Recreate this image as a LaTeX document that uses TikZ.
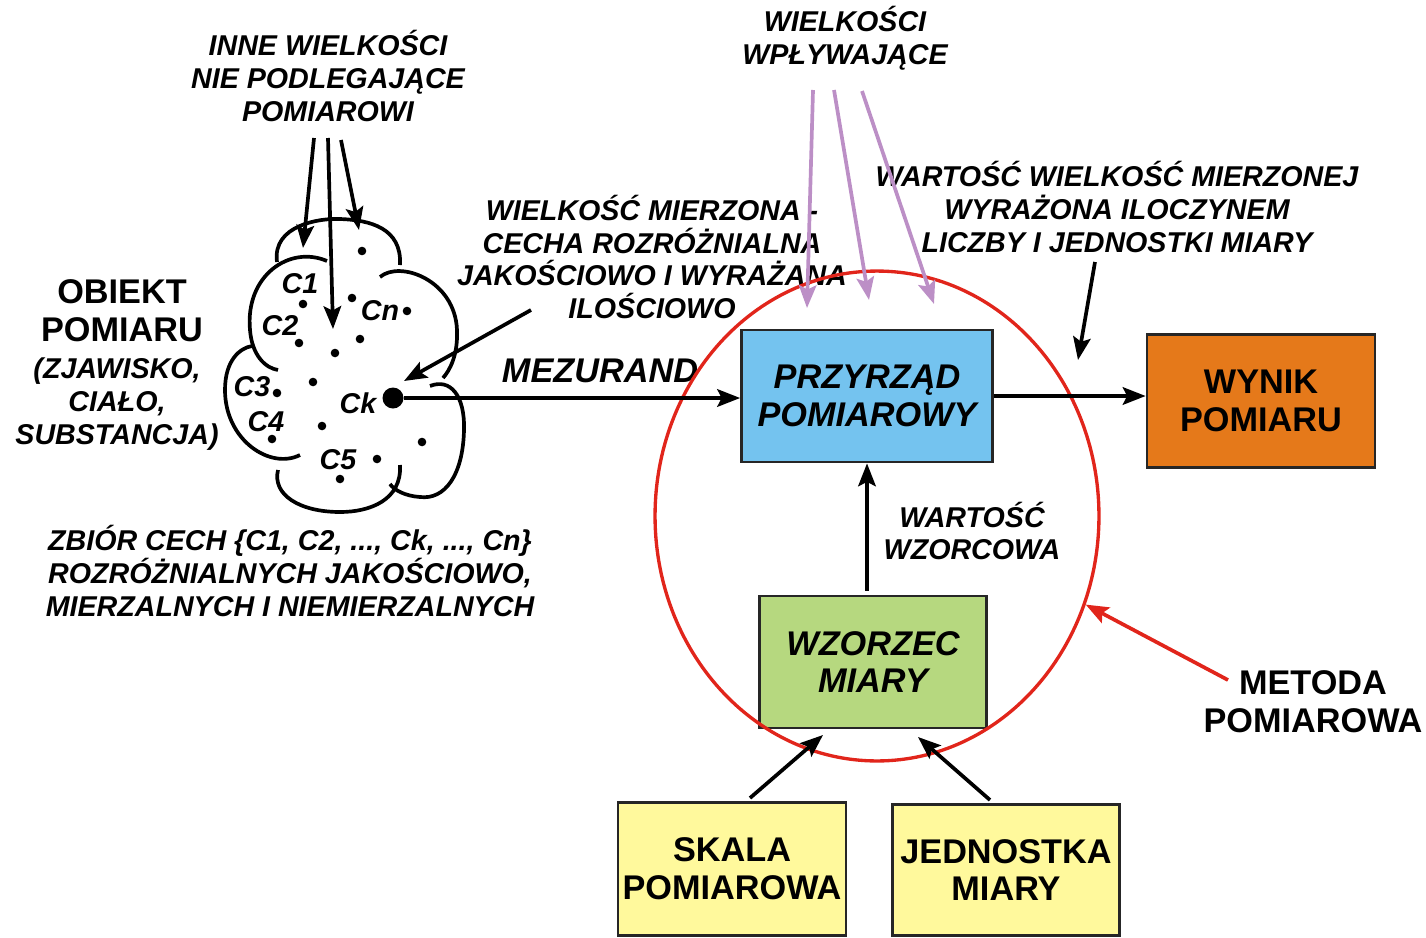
\documentclass[tikz,border=0pt]{standalone}
\usepackage{fontspec}
\setmainfont{Liberation Sans}
\usetikzlibrary{arrows.meta,shapes.geometric}
\definecolor{przyrzadblue}{HTML}{74C3EF}
\definecolor{wynikorange}{HTML}{E5791A}
\definecolor{wzorzecgreen}{HTML}{B6D87F}
\definecolor{skalayellow}{HTML}{FFF99C}
\definecolor{metodared}{HTML}{E1251B}
\definecolor{wplywviolet}{HTML}{BC8FC6}
\tikzset{
	bigtext/.style={font=\fontsize{19.5}{21.6}\selectfont\bfseries,align=center,inner sep=0pt},
	bigitext/.style={font=\fontsize{19.5}{21.6}\selectfont\bfseries\itshape,align=center,inner sep=0pt},
	smalltext/.style={font=\fontsize{16.3}{18.7}\selectfont\bfseries\itshape,align=center,inner sep=0pt},
	mbox/.style={draw=black!85,line width=1.6pt,inner sep=0pt},
	cloudline/.style={line width=2.1pt},
	arr/.style={line width=2.1pt,-{Stealth[length=13pt,width=10pt,inset=2.5pt]}},
}
\begin{document}
\begin{tikzpicture}[x=0.02cm,y=-0.02cm]
	\useasboundingbox (0,0) rectangle (1426,937);
	\node[smalltext] (inne) at (328,76) {INNE WIELKOŚCI\\NIE PODLEGAJĄCE\\POMIAROWI};
	\node[smalltext] (wplyw) at (845,38) {WIELKOŚCI\\WPŁYWAJĄCE};
	\node[bigtext] (obiekt) at (122,311) {OBIEKT\\POMIARU};
	\node[smalltext] (zjawisko) at (117,404) {(ZJAWISKO,\\CIAŁO,\\SUBSTANCJA)};
	\node[smalltext] (zbior) at (290,571) {ZBIÓR CECH \{C1, C2, ..., Ck, ..., Cn\}\\ROZRÓŻNIALNYCH JAKOŚCIOWO,\\MIERZALNYCH I NIEMIERZALNYCH};
	\node[smalltext] (mierzona) at (652,257) {WIELKOŚĆ MIERZONA -\\CECHA ROZRÓŻNIALNA\\JAKOŚCIOWO I WYRAŻANA\\ILOŚCIOWO};
	\node[bigitext] (mezurand) at (600,371) {MEZURAND};
	\node[smalltext] (wartosc) at (1117,207) {WARTOŚĆ WIELKOŚĆ MIERZONEJ\\WYRAŻONA ILOCZYNEM\\LICZBY I JEDNOSTKI MIARY};
	\node[smalltext] (wzorcowa) at (972,531) {WARTOŚĆ\\WZORCOWA};
	\node[bigtext] (metoda) at (1313,702) {METODA\\POMIAROWA};

	\draw[cloudline] (277,262) .. controls (272,225) and (320,218) .. (340,219) .. controls (370,220) and (402,228) .. (400,265);
	\draw[cloudline] (327,261) .. controls (290,245) and (245,275) .. (250,330) .. controls (252,355) and (265,368) .. (278,370);
	\draw[cloudline] (380,277) .. controls (400,260) and (455,280) .. (457,330) .. controls (458,355) and (450,370) .. (443,378);
	\draw[cloudline] (430,386) .. controls (450,378) and (465,395) .. (464,430) .. controls (463,475) and (445,500) .. (420,497) .. controls (405,496) and (394,490) .. (390,484);
	\draw[cloudline] (400,465) .. controls (402,500) and (370,512) .. (340,512) .. controls (300,512) and (272,495) .. (278,470);
	\draw[cloudline] (300,455) .. controls (270,470) and (225,440) .. (225,390) .. controls (225,360) and (240,348) .. (252,346);
	\foreach \px/\py in {362/251,303/304,352/298,407/311,299/343,335/353,360/339,313/382,277/393,322/426,272/439,422/442,377/459,340/479}
		\fill (\px,\py) circle (4.3);
	\node[smalltext] (c1) at (300,284) {C1};
	\node[smalltext] (c2) at (280,326) {C2};
	\node[smalltext] (cn) at (380,311) {Cn};
	\node[smalltext] (c3) at (252,387) {C3};
	\node[smalltext] (ck) at (358,403) {Ck};
	\node[smalltext] (c4) at (266,422) {C4};
	\node[smalltext] (c5) at (338,460) {C5};
	\node[circle,fill,inner sep=0pt,minimum size=0.42cm] (ckdot) at (393,398) {};

	\node[mbox,fill=przyrzadblue,minimum width=5.02cm,minimum height=2.64cm,bigitext] (przyrzad) at (867,396) {PRZYRZĄD\\POMIAROWY};
	\node[mbox,fill=wynikorange,minimum width=4.56cm,minimum height=2.66cm,bigtext] (wynik) at (1261,401) {WYNIK\\POMIARU};
	\node[mbox,fill=wzorzecgreen,minimum width=4.54cm,minimum height=2.64cm,bigitext] (wzorzec) at (873,662) {WZORZEC\\MIARY};
	\node[mbox,fill=skalayellow,minimum width=4.56cm,minimum height=2.66cm,bigtext] (skala) at (732,869) {SKALA\\POMIAROWA};
	\node[mbox,fill=skalayellow,minimum width=4.54cm,minimum height=2.62cm,bigtext] (jednostka) at (1006,870) {JEDNOSTKA\\MIARY};

	\node[ellipse,draw=metodared,line width=1.9pt,inner sep=0pt,minimum width=8.88cm,minimum height=9.8cm] (metodael) at (877,516) {};

	\coordinate (inne1) at (314,138);
	\coordinate (inne2) at (328,138);
	\coordinate (inne3) at (341,140);
	\coordinate (inne1e) at (303,248);
	\coordinate (inne2e) at (333,329);
	\coordinate (inne3e) at (359,230);
	\draw[arr] (inne1) -- (inne1e);
	\draw[arr] (inne2) -- (inne2e);
	\draw[arr] (inne3) -- (inne3e);

	\coordinate (wplyw1) at (813,90);
	\coordinate (wplyw2) at (834,90);
	\coordinate (wplyw3) at (862,91);
	\coordinate (wplyw1e) at (807,308);
	\coordinate (wplyw2e) at (869,300);
	\coordinate (wplyw3e) at (934,304);
	\draw[arr,wplywviolet] (wplyw1) -- (wplyw1e);
	\draw[arr,wplywviolet] (wplyw2) -- (wplyw2e);
	\draw[arr,wplywviolet] (wplyw3) -- (wplyw3e);

	\coordinate (mierzona1) at (531,310);
	\coordinate (mierzona1e) at (404,381);
	\draw[arr] (mierzona1) -- (mierzona1e);
	\draw[arr] (ckdot) -- (ckdot -| przyrzad.west);
	\draw[arr] (przyrzad.east) -- (przyrzad.east -| wynik.west);
	\coordinate (wartosc1) at (1095,262);
	\coordinate (wartosc1e) at (1078,360);
	\draw[arr] (wartosc1) -- (wartosc1e);
	\draw[arr] ([yshift=0.08cm]wzorzec.north -| przyrzad.south) -- (przyrzad.south);
	\coordinate (skala1) at (750,798);
	\coordinate (skala1e) at (823,735);
	\coordinate (jednostka1) at (990,800);
	\coordinate (jednostka1e) at (918,737);
	\draw[arr] (skala1) -- (skala1e);
	\draw[arr] (jednostka1) -- (jednostka1e);
	\coordinate (metoda1) at (1228,680);
	\draw[arr,metodared] (metoda1) -- (metodael.-23);
\end{tikzpicture}
\end{document}
